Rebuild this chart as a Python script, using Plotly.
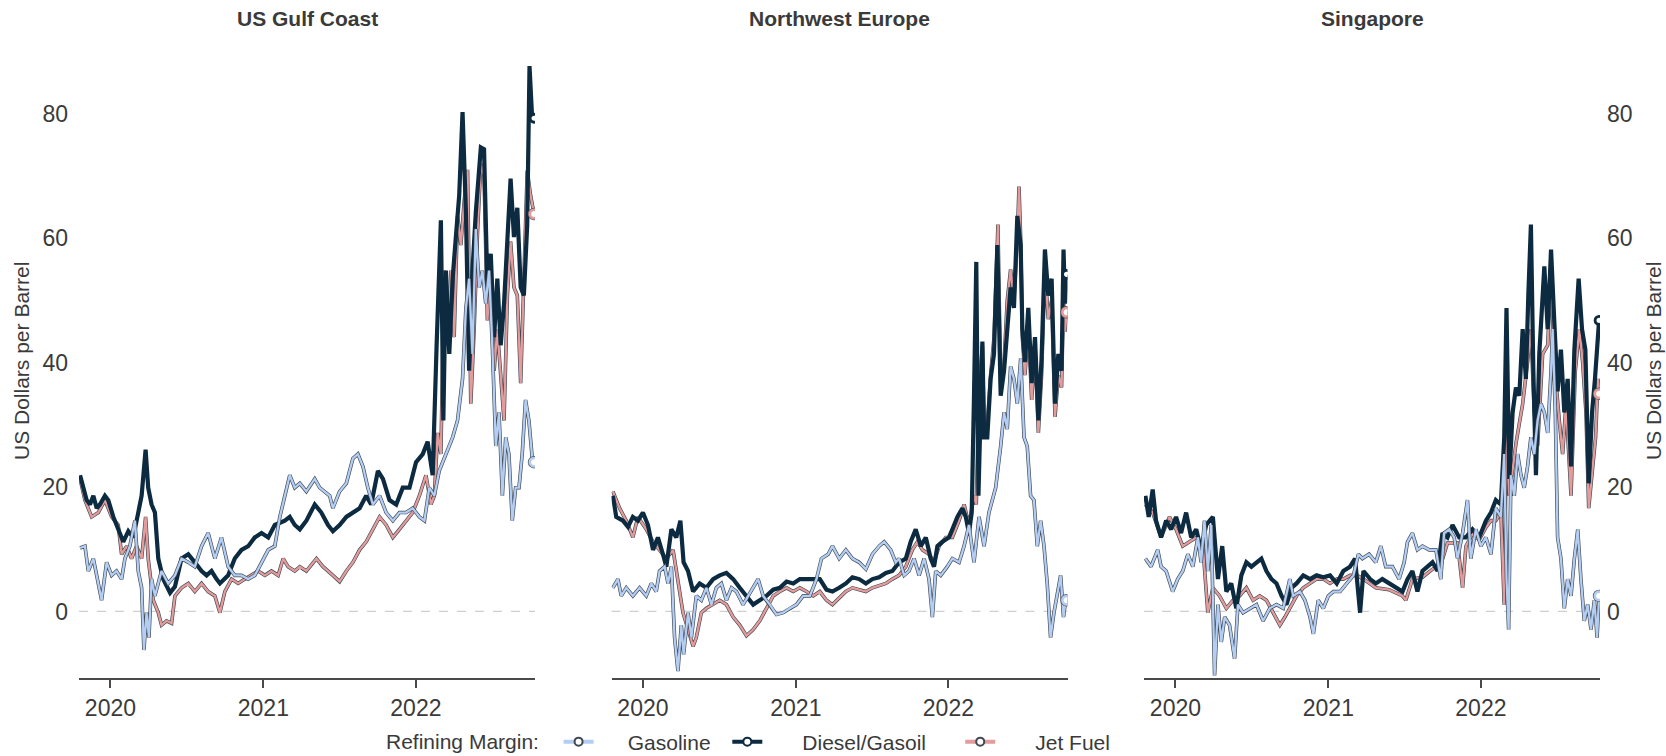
import plotly.graph_objects as go
from datetime import datetime

REGIONS = ["US Gulf Coast", "Northwest Europe", "Singapore"]
SERIES_NAMES = ["Gasoline", "Diesel/Gasoil", "Jet Fuel"]
YEAR_TICKS = [2020, 2021, 2022]
Y_TICKS = [0, 20, 40, 60, 80]
Y_TITLE = "US Dollars per Barrel"
LEGEND_TITLE = "Refining Margin:"

# Refining margins, (decimal year, US$ per barrel)
GC_GASOLINE = [
    (2019.801, 10.2), (2019.833, 10.5), (2019.855, 6.5), (2019.888, 8.5), (2019.910, 5.8), (2019.942, 1.8),
    (2019.975, 7.9), (2020.008, 5.8), (2020.040, 6.5), (2020.073, 5.2), (2020.095, 8.5), (2020.127, 10.5),
    (2020.160, 14.6), (2020.182, 6.5), (2020.204, 3.8), (2020.219, -6.2), (2020.236, -0.2), (2020.252, -4.2),
    (2020.269, 5.2), (2020.291, 2.5), (2020.334, 6.5), (2020.378, 4.5), (2020.422, 5.8), (2020.465, 8.5),
    (2020.509, 7.9), (2020.552, 7.2), (2020.596, 10.5), (2020.639, 12.6), (2020.683, 8.5), (2020.726, 11.9),
    (2020.770, 7.2), (2020.813, 5.8), (2020.857, 5.8), (2020.901, 5.2), (2020.944, 5.8), (2020.988, 7.9),
    (2021.032, 9.9), (2021.075, 10.5), (2021.108, 15.2), (2021.141, 18.6), (2021.173, 21.9), (2021.206, 19.9),
    (2021.239, 20.6), (2021.282, 19.3), (2021.337, 21.3), (2021.369, 19.9), (2021.435, 18.6), (2021.456, 16.6),
    (2021.500, 19.3), (2021.544, 20.6), (2021.587, 24.6), (2021.620, 25.3), (2021.653, 23.3), (2021.685, 19.9),
    (2021.718, 17.2), (2021.762, 18.6), (2021.805, 15.9), (2021.849, 14.6), (2021.892, 15.9), (2021.936, 15.9),
    (2021.979, 16.6), (2022.023, 15.2), (2022.056, 14.6), (2022.088, 19.9), (2022.121, 18.6), (2022.153, 22.6),
    (2022.197, 25.3), (2022.241, 28.0), (2022.273, 30.7), (2022.306, 37.4), (2022.328, 48.8), (2022.349, 53.5),
    (2022.371, 41.4), (2022.393, 61.5), (2022.415, 52.1), (2022.436, 54.8), (2022.458, 49.5), (2022.480, 54.8),
    (2022.502, 42.1), (2022.524, 26.6), (2022.545, 32.0), (2022.567, 18.6), (2022.589, 28.0), (2022.610, 25.3),
    (2022.632, 14.6), (2022.654, 19.9), (2022.676, 19.9), (2022.697, 25.3), (2022.719, 34.0), (2022.741, 30.7),
    (2022.763, 24.6), (2022.775, 24.0),
]
GC_DIESEL = [
    (2019.801, 21.9), (2019.822, 19.9), (2019.844, 17.9), (2019.866, 17.2), (2019.888, 18.6), (2019.910, 16.6),
    (2019.931, 17.2), (2019.964, 18.6), (2019.986, 17.9), (2020.019, 15.2), (2020.051, 13.2), (2020.084, 11.2),
    (2020.117, 12.9), (2020.149, 11.9), (2020.182, 15.9), (2020.204, 18.6), (2020.230, 26.0), (2020.247, 19.9),
    (2020.269, 17.2), (2020.291, 15.9), (2020.313, 8.5), (2020.345, 5.2), (2020.390, 3.0), (2020.422, 4.0),
    (2020.465, 8.5), (2020.509, 9.2), (2020.552, 7.9), (2020.596, 6.5), (2020.629, 5.8), (2020.661, 6.5),
    (2020.694, 5.2), (2020.716, 4.5), (2020.770, 5.8), (2020.813, 8.5), (2020.857, 9.9), (2020.901, 10.5),
    (2020.944, 11.9), (2020.988, 12.6), (2021.032, 11.9), (2021.075, 13.9), (2021.141, 14.6), (2021.173, 15.2),
    (2021.206, 13.9), (2021.239, 13.2), (2021.282, 14.6), (2021.337, 17.2), (2021.380, 15.9), (2021.424, 13.9),
    (2021.456, 12.9), (2021.500, 13.9), (2021.544, 15.2), (2021.587, 15.9), (2021.631, 16.6), (2021.674, 18.6),
    (2021.707, 17.2), (2021.751, 22.6), (2021.784, 21.3), (2021.827, 17.9), (2021.871, 17.2), (2021.914, 19.9),
    (2021.958, 19.9), (2022.001, 24.0), (2022.045, 25.3), (2022.077, 27.3), (2022.110, 21.9), (2022.136, 42.8),
    (2022.164, 62.9), (2022.180, 30.7), (2022.197, 54.8), (2022.219, 41.4), (2022.241, 53.5), (2022.262, 60.2),
    (2022.284, 66.9), (2022.306, 80.3), (2022.328, 64.2), (2022.349, 38.7), (2022.371, 54.8), (2022.393, 64.2),
    (2022.426, 74.6), (2022.447, 74.3), (2022.469, 52.1), (2022.491, 57.5), (2022.513, 44.1), (2022.534, 53.5),
    (2022.556, 42.8), (2022.578, 49.5), (2022.600, 60.2), (2022.621, 69.6), (2022.643, 60.2), (2022.665, 64.9),
    (2022.687, 52.1), (2022.708, 50.8), (2022.730, 62.2), (2022.745, 87.7), (2022.763, 79.0), (2022.775, 79.3),
]
GC_JET = [
    (2019.801, 21.3), (2019.833, 17.9), (2019.877, 15.2), (2019.921, 15.9), (2019.964, 17.9), (2020.008, 15.2),
    (2020.051, 13.9), (2020.073, 9.2), (2020.106, 10.5), (2020.138, 8.5), (2020.171, 10.5), (2020.204, 8.5),
    (2020.230, 15.2), (2020.247, 8.5), (2020.280, 1.8), (2020.313, -0.2), (2020.334, -2.2), (2020.367, -1.5),
    (2020.400, -1.9), (2020.422, 2.5), (2020.465, 3.8), (2020.509, 4.5), (2020.552, 3.2), (2020.596, 4.5),
    (2020.639, 3.2), (2020.683, 2.5), (2020.716, -0.2), (2020.748, 3.2), (2020.792, 5.2), (2020.835, 4.5),
    (2020.879, 5.2), (2020.923, 5.8), (2020.966, 6.5), (2021.010, 5.8), (2021.053, 6.5), (2021.097, 5.8),
    (2021.130, 8.5), (2021.162, 7.2), (2021.206, 6.5), (2021.239, 7.2), (2021.282, 6.5), (2021.348, 8.5),
    (2021.391, 7.2), (2021.456, 5.8), (2021.500, 4.8), (2021.544, 6.5), (2021.587, 7.9), (2021.631, 9.9),
    (2021.674, 11.2), (2021.718, 13.2), (2021.762, 15.2), (2021.805, 13.9), (2021.849, 11.9), (2021.892, 13.2),
    (2021.936, 14.6), (2021.979, 15.9), (2022.023, 18.6), (2022.066, 21.9), (2022.099, 17.2), (2022.121, 18.6),
    (2022.143, 28.7), (2022.164, 25.3), (2022.186, 54.8), (2022.208, 42.8), (2022.230, 54.8), (2022.251, 44.1),
    (2022.273, 63.6), (2022.295, 58.9), (2022.317, 66.0), (2022.339, 71.0), (2022.360, 33.4), (2022.382, 45.4),
    (2022.404, 60.9), (2022.426, 72.0), (2022.447, 70.0), (2022.469, 46.8), (2022.491, 55.5), (2022.513, 38.7),
    (2022.534, 45.4), (2022.556, 37.4), (2022.578, 30.7), (2022.600, 50.8), (2022.621, 59.5), (2022.643, 52.1),
    (2022.665, 50.8), (2022.687, 36.7), (2022.708, 52.1), (2022.730, 70.9), (2022.752, 66.9), (2022.775, 63.9),
]

NWE_GASOLINE = [
    (2019.803, 3.8), (2019.836, 5.2), (2019.858, 2.5), (2019.891, 3.8), (2019.934, 2.5), (2019.978, 3.8),
    (2020.022, 2.5), (2020.055, 4.5), (2020.087, 3.2), (2020.109, 6.5), (2020.142, 7.2), (2020.164, 4.5),
    (2020.186, 7.2), (2020.207, -4.2), (2020.229, -9.6), (2020.251, -2.2), (2020.266, -6.9), (2020.295, -0.2),
    (2020.317, -4.2), (2020.349, 2.5), (2020.382, 1.8), (2020.415, 3.8), (2020.448, 1.1), (2020.480, 3.8),
    (2020.513, 4.5), (2020.546, 1.8), (2020.579, 3.8), (2020.611, 3.2), (2020.655, 1.1), (2020.688, 2.5),
    (2020.721, 3.8), (2020.753, 5.2), (2020.786, 2.5), (2020.830, 1.1), (2020.873, -0.5), (2020.917, -0.2),
    (2020.961, 0.5), (2021.004, 1.1), (2021.048, 2.5), (2021.092, 2.5), (2021.135, 5.2), (2021.168, 8.5),
    (2021.212, 9.2), (2021.240, 10.5), (2021.284, 8.5), (2021.328, 9.9), (2021.371, 8.5), (2021.415, 7.9),
    (2021.459, 6.8), (2021.502, 9.2), (2021.546, 10.5), (2021.579, 11.2), (2021.622, 9.9), (2021.655, 7.9),
    (2021.677, 8.5), (2021.710, 5.8), (2021.742, 6.5), (2021.775, 8.5), (2021.808, 5.8), (2021.841, 8.5),
    (2021.873, 5.2), (2021.895, -0.9), (2021.917, 6.5), (2021.950, 5.8), (2021.993, 7.2), (2022.026, 8.5),
    (2022.070, 7.9), (2022.103, 10.5), (2022.135, 13.9), (2022.168, 7.9), (2022.201, 15.2), (2022.234, 10.5),
    (2022.266, 15.9), (2022.310, 19.9), (2022.343, 26.6), (2022.365, 32.0), (2022.386, 29.3), (2022.408, 39.4),
    (2022.430, 37.4), (2022.452, 33.4), (2022.474, 40.7), (2022.496, 28.0), (2022.517, 26.6), (2022.539, 18.6),
    (2022.561, 17.9), (2022.583, 10.5), (2022.605, 14.6), (2022.627, 10.5), (2022.648, 4.5), (2022.670, -4.2),
    (2022.692, -0.2), (2022.714, 2.5), (2022.736, 5.8), (2022.755, -0.9), (2022.765, 1.1), (2022.775, 1.8),
]
NWE_DIESEL = [
    (2019.803, 18.6), (2019.825, 15.2), (2019.869, 14.6), (2019.902, 13.6), (2019.934, 15.2), (2019.967, 14.6),
    (2020.000, 15.9), (2020.033, 13.9), (2020.066, 9.9), (2020.098, 11.9), (2020.131, 9.2), (2020.153, 7.2),
    (2020.186, 13.2), (2020.218, 11.9), (2020.245, 14.6), (2020.266, 7.9), (2020.295, 6.5), (2020.328, 3.2),
    (2020.371, 4.5), (2020.415, 3.8), (2020.459, 5.2), (2020.502, 5.8), (2020.546, 6.2), (2020.590, 5.2),
    (2020.633, 3.8), (2020.677, 2.5), (2020.721, 1.1), (2020.764, 1.8), (2020.808, 2.5), (2020.852, 3.5),
    (2020.895, 3.8), (2020.939, 4.8), (2020.983, 4.5), (2021.026, 5.2), (2021.070, 5.2), (2021.114, 5.2),
    (2021.157, 5.2), (2021.201, 3.5), (2021.240, 3.2), (2021.284, 3.8), (2021.328, 4.5), (2021.371, 5.5),
    (2021.415, 5.2), (2021.459, 4.5), (2021.502, 5.2), (2021.546, 5.5), (2021.590, 6.2), (2021.633, 6.5),
    (2021.677, 7.9), (2021.721, 8.5), (2021.753, 11.2), (2021.786, 13.2), (2021.819, 10.5), (2021.852, 11.9),
    (2021.884, 8.5), (2021.906, 7.2), (2021.928, 10.5), (2021.961, 11.2), (2022.004, 11.9), (2022.026, 13.2),
    (2022.059, 15.2), (2022.092, 16.6), (2022.114, 15.2), (2022.135, 12.6), (2022.153, 15.9), (2022.168, 34.7),
    (2022.183, 56.2), (2022.197, 18.6), (2022.212, 33.4), (2022.223, 43.4), (2022.234, 28.0), (2022.255, 28.0),
    (2022.277, 37.4), (2022.299, 41.4), (2022.321, 58.9), (2022.343, 34.7), (2022.365, 38.7), (2022.386, 45.4),
    (2022.408, 52.1), (2022.430, 48.8), (2022.452, 63.6), (2022.474, 58.9), (2022.485, 45.4), (2022.502, 40.1),
    (2022.524, 48.8), (2022.546, 36.7), (2022.568, 44.1), (2022.590, 30.7), (2022.611, 40.7), (2022.633, 58.2),
    (2022.655, 50.8), (2022.677, 53.5), (2022.699, 33.4), (2022.721, 41.4), (2022.742, 38.7), (2022.755, 58.2),
    (2022.765, 49.5), (2022.775, 54.2),
]
NWE_JET = [
    (2019.803, 19.3), (2019.847, 16.6), (2019.891, 14.6), (2019.934, 11.9), (2019.967, 15.2), (2020.022, 13.2),
    (2020.066, 11.2), (2020.109, 9.9), (2020.153, 8.5), (2020.197, 9.9), (2020.229, 5.2), (2020.262, -0.2),
    (2020.295, -2.9), (2020.328, -5.6), (2020.349, -4.2), (2020.382, -0.2), (2020.415, 0.5), (2020.459, 1.1),
    (2020.502, 1.8), (2020.546, 1.1), (2020.590, -0.9), (2020.633, -2.2), (2020.677, -3.9), (2020.721, -2.9),
    (2020.764, -1.5), (2020.808, 0.5), (2020.852, 2.5), (2020.895, 3.2), (2020.939, 3.8), (2020.983, 3.2),
    (2021.026, 3.8), (2021.070, 3.2), (2021.114, 2.5), (2021.157, 3.2), (2021.201, 1.8), (2021.240, 1.1),
    (2021.284, 2.1), (2021.328, 3.2), (2021.371, 3.8), (2021.415, 3.5), (2021.459, 3.2), (2021.502, 3.8),
    (2021.546, 4.2), (2021.590, 4.5), (2021.633, 5.2), (2021.677, 5.8), (2021.721, 7.2), (2021.764, 9.9),
    (2021.797, 11.2), (2021.830, 9.9), (2021.873, 9.2), (2021.906, 7.9), (2021.939, 10.5), (2021.983, 11.9),
    (2022.026, 11.9), (2022.070, 14.6), (2022.103, 17.2), (2022.135, 13.9), (2022.168, 18.6), (2022.183, 17.2),
    (2022.201, 35.4), (2022.223, 42.8), (2022.234, 30.0), (2022.255, 30.0), (2022.277, 38.0), (2022.299, 44.0),
    (2022.325, 62.2), (2022.343, 36.0), (2022.365, 40.0), (2022.386, 50.0), (2022.408, 55.0), (2022.430, 50.0),
    (2022.452, 60.0), (2022.463, 68.3), (2022.474, 60.0), (2022.485, 44.0), (2022.502, 38.0), (2022.524, 46.0),
    (2022.546, 34.0), (2022.568, 42.0), (2022.590, 28.7), (2022.611, 38.0), (2022.633, 55.0), (2022.655, 47.0),
    (2022.677, 50.0), (2022.699, 31.3), (2022.721, 38.0), (2022.742, 36.0), (2022.755, 50.0), (2022.765, 45.0),
    (2022.775, 48.1),
]

SG_GASOLINE = [
    (2019.803, 8.5), (2019.840, 7.2), (2019.884, 9.9), (2019.906, 7.2), (2019.939, 6.5), (2019.982, 3.2),
    (2020.015, 5.2), (2020.048, 6.5), (2020.081, 9.2), (2020.114, 7.2), (2020.147, 11.9), (2020.168, 7.9),
    (2020.190, 14.6), (2020.212, 6.5), (2020.234, 13.9), (2020.256, -10.3), (2020.278, 1.1), (2020.300, -4.9),
    (2020.322, -0.9), (2020.354, -2.2), (2020.387, -7.6), (2020.409, 1.1), (2020.442, -0.2), (2020.486, 0.5),
    (2020.530, 1.1), (2020.573, -1.5), (2020.617, 0.5), (2020.661, 1.1), (2020.705, 0.5), (2020.748, 5.2),
    (2020.770, 2.5), (2020.814, 3.2), (2020.847, 1.8), (2020.880, -0.9), (2020.902, -3.6), (2020.934, 1.8),
    (2020.967, 0.5), (2021.000, 2.5), (2021.033, 3.2), (2021.077, 3.2), (2021.120, 4.5), (2021.164, 5.8),
    (2021.197, 9.2), (2021.223, 8.5), (2021.267, 9.2), (2021.311, 7.9), (2021.344, 10.5), (2021.376, 7.2),
    (2021.420, 7.2), (2021.464, 5.2), (2021.497, 7.9), (2021.519, 11.2), (2021.551, 12.6), (2021.584, 9.9),
    (2021.617, 10.5), (2021.661, 9.9), (2021.705, 9.9), (2021.737, 5.2), (2021.759, 12.6), (2021.792, 13.2),
    (2021.825, 11.9), (2021.847, 8.5), (2021.880, 12.6), (2021.912, 17.9), (2021.934, 8.5), (2021.967, 13.2),
    (2022.000, 10.5), (2022.033, 11.9), (2022.066, 9.2), (2022.098, 16.6), (2022.131, 15.2), (2022.153, 25.3),
    (2022.168, 5.2), (2022.182, -2.9), (2022.197, 21.9), (2022.219, 18.6), (2022.241, 25.3), (2022.263, 21.9),
    (2022.284, 19.9), (2022.306, 23.3), (2022.328, 28.0), (2022.350, 25.3), (2022.372, 30.7), (2022.394, 33.4),
    (2022.416, 32.0), (2022.438, 28.7), (2022.460, 38.7), (2022.470, 45.4), (2022.488, 32.0), (2022.503, 11.9),
    (2022.525, 8.5), (2022.547, 0.5), (2022.569, 5.2), (2022.591, 2.5), (2022.613, 8.5), (2022.635, 13.2),
    (2022.656, 5.2), (2022.678, -1.5), (2022.700, 1.1), (2022.722, -2.9), (2022.744, 1.8), (2022.762, -4.2),
    (2022.775, 2.5),
]
SG_DIESEL = [
    (2019.803, 18.6), (2019.825, 15.2), (2019.851, 19.6), (2019.873, 14.6), (2019.906, 11.9), (2019.939, 14.6),
    (2019.972, 13.2), (2020.004, 15.2), (2020.037, 12.6), (2020.070, 15.9), (2020.103, 11.9), (2020.136, 13.2),
    (2020.168, 9.9), (2020.201, 13.9), (2020.245, 15.2), (2020.278, 5.2), (2020.306, 10.5), (2020.333, 3.2),
    (2020.365, 4.5), (2020.398, 0.5), (2020.431, 5.8), (2020.464, 7.9), (2020.497, 7.2), (2020.530, 7.9),
    (2020.562, 8.5), (2020.595, 6.5), (2020.628, 5.2), (2020.661, 4.5), (2020.694, 2.5), (2020.726, 1.1),
    (2020.759, 3.8), (2020.792, 4.5), (2020.836, 5.8), (2020.880, 5.2), (2020.923, 5.8), (2020.967, 5.5),
    (2021.011, 5.8), (2021.055, 4.5), (2021.098, 6.5), (2021.142, 7.2), (2021.175, 8.5), (2021.208, -0.2),
    (2021.230, 6.5), (2021.274, 5.2), (2021.311, 4.5), (2021.354, 5.2), (2021.398, 4.5), (2021.442, 3.8),
    (2021.486, 3.2), (2021.519, 5.2), (2021.551, 6.5), (2021.584, 3.2), (2021.617, 6.5), (2021.650, 7.2),
    (2021.683, 7.9), (2021.716, 6.5), (2021.748, 12.6), (2021.781, 11.9), (2021.814, 13.9), (2021.858, 11.9),
    (2021.902, 11.9), (2021.945, 13.2), (2021.989, 11.9), (2022.033, 14.6), (2022.066, 15.9), (2022.098, 17.9),
    (2022.131, 17.2), (2022.153, 28.0), (2022.168, 48.8), (2022.186, 21.3), (2022.208, 32.0), (2022.230, 36.0),
    (2022.252, 34.7), (2022.274, 45.4), (2022.295, 37.4), (2022.311, 50.8), (2022.328, 62.2), (2022.344, 38.7),
    (2022.361, 21.9), (2022.383, 41.4), (2022.416, 55.5), (2022.438, 45.4), (2022.460, 58.2), (2022.481, 46.8),
    (2022.503, 35.4), (2022.525, 42.1), (2022.547, 32.0), (2022.569, 37.4), (2022.591, 23.3), (2022.613, 42.1),
    (2022.641, 53.5), (2022.663, 45.4), (2022.685, 42.1), (2022.707, 20.6), (2022.729, 32.0), (2022.748, 37.4),
    (2022.767, 44.1), (2022.775, 46.8),
]
SG_JET = [
    (2019.803, 17.2), (2019.851, 15.9), (2019.906, 11.9), (2019.961, 15.2), (2020.004, 13.2), (2020.048, 10.5),
    (2020.092, 11.2), (2020.136, 11.9), (2020.179, 10.5), (2020.212, -0.2), (2020.245, 3.8), (2020.289, 2.5),
    (2020.333, 0.5), (2020.376, 1.8), (2020.420, 2.5), (2020.464, 3.8), (2020.508, 1.8), (2020.551, 2.5),
    (2020.595, 1.8), (2020.639, -0.2), (2020.683, -2.2), (2020.716, -0.9), (2020.748, 0.5), (2020.792, 2.5),
    (2020.836, 3.8), (2020.880, 4.5), (2020.923, 5.2), (2020.967, 5.2), (2021.011, 4.5), (2021.055, 5.2),
    (2021.098, 5.2), (2021.142, 5.8), (2021.186, 5.8), (2021.230, 5.2), (2021.311, 3.8), (2021.398, 3.5),
    (2021.486, 2.5), (2021.508, 1.8), (2021.551, 5.2), (2021.617, 5.5), (2021.683, 6.8), (2021.737, 7.5),
    (2021.781, 11.0), (2021.847, 11.0), (2021.880, 3.8), (2021.902, 10.5), (2021.945, 12.5), (2021.989, 11.5),
    (2022.033, 13.5), (2022.066, 14.6), (2022.098, 14.6), (2022.131, 16.0), (2022.153, 1.1), (2022.168, 30.0),
    (2022.186, 18.6), (2022.230, 27.0), (2022.274, 33.4), (2022.306, 40.1), (2022.328, 45.4), (2022.350, 32.0),
    (2022.372, 26.6), (2022.405, 41.4), (2022.438, 42.8), (2022.460, 54.8), (2022.481, 40.1), (2022.514, 30.7),
    (2022.536, 25.3), (2022.558, 33.4), (2022.591, 18.6), (2022.619, 38.7), (2022.646, 45.4), (2022.667, 40.1),
    (2022.689, 32.0), (2022.707, 16.6), (2022.729, 21.9), (2022.752, 28.0), (2022.768, 37.4), (2022.775, 35.0),
]

X_START, X_END = 2019.794, 2022.781
Y_MIN, Y_MAX = -10.75, 90.0

# ---------------------------------------------------------------- styling
W, H = 1666, 756
PANEL_LEFT = [79, 611.5, 1144]
PANEL_W = 456
PLOT_TOP, PLOT_BOTTOM = 51.7, 678.3
FONT = "Liberation Sans, Arial, Helvetica, sans-serif"
TXT = "#3a3a3a"
AXC = "#4a4a4a"
OUTLINE = "#414a54"
COLORS = {"Gasoline": "#b3cdf3", "Diesel/Gasoil": "#0c2b40", "Jet Fuel": "#e39b9b"}
NB = "\u00a0"
LEGEND_PAD = {"Gasoline": (5, 2), "Diesel/Gasoil": (6, 5), "Jet Fuel": (6, 0)}


def to_date(t):
    y = int(t)
    a, b = datetime(y, 1, 1), datetime(y + 1, 1, 1)
    return a + (b - a) * (t - y)


DATA = {
    "US Gulf Coast": {"Gasoline": GC_GASOLINE, "Diesel/Gasoil": GC_DIESEL, "Jet Fuel": GC_JET},
    "Northwest Europe": {"Gasoline": NWE_GASOLINE, "Diesel/Gasoil": NWE_DIESEL, "Jet Fuel": NWE_JET},
    "Singapore": {"Gasoline": SG_GASOLINE, "Diesel/Gasoil": SG_DIESEL, "Jet Fuel": SG_JET},
}

fig = go.Figure()
marker_traces = []

for i, region in enumerate(REGIONS):
    xa = "x" if i == 0 else f"x{i+1}"
    ya = "y" if i == 0 else f"y{i+1}"
    series = DATA[region]
    for name in ["Jet Fuel", "Diesel/Gasoil", "Gasoline"]:
        pts = series[name]
        xs = [to_date(t) for t, _ in pts]
        ys = [v for _, v in pts]
        if name == "Diesel/Gasoil":
            fig.add_trace(go.Scatter(x=xs, y=ys, mode="lines", xaxis=xa, yaxis=ya,
                                     line=dict(color=COLORS[name], width=4.2),
                                     showlegend=False, hoverinfo="skip"))
            marker_traces.append(go.Scatter(x=[xs[-1]], y=[ys[-1]], mode="markers", xaxis=xa, yaxis=ya,
                                            marker=dict(size=8, color="white",
                                                        line=dict(color=COLORS[name], width=2.8)),
                                            showlegend=False, hoverinfo="skip"))
        else:
            fig.add_trace(go.Scatter(x=xs, y=ys, mode="lines", xaxis=xa, yaxis=ya,
                                     line=dict(color=OUTLINE, width=3.6),
                                     showlegend=False, hoverinfo="skip"))
            fig.add_trace(go.Scatter(x=xs, y=ys, mode="lines", xaxis=xa, yaxis=ya,
                                     line=dict(color=COLORS[name], width=2.3),
                                     showlegend=False, hoverinfo="skip"))
            marker_traces.append(go.Scatter(x=[xs[-1]], y=[ys[-1]], mode="markers", xaxis=xa, yaxis=ya,
                                            marker=dict(size=12.5, color="#5a5a5a", line=dict(width=0)),
                                            showlegend=False, hoverinfo="skip"))
            marker_traces.append(go.Scatter(x=[xs[-1]], y=[ys[-1]], mode="markers", xaxis=xa, yaxis=ya,
                                            marker=dict(size=8.5, color="white",
                                                        line=dict(color=COLORS[name], width=2.6)),
                                            showlegend=False, hoverinfo="skip"))

for t in marker_traces:
    fig.add_trace(t)

# legend-only entries
for rank, name in enumerate(SERIES_NAMES):
    lead, trail = LEGEND_PAD[name]
    fig.add_trace(go.Scatter(
        x=[None], y=[None], mode="lines+markers", name=NB * lead + name + NB * trail,
        line=dict(color=COLORS[name], width=4),
        marker=dict(size=8, color="white",
                    line=dict(color=COLORS[name] if name == "Diesel/Gasoil" else OUTLINE, width=2)),
        legendrank=rank + 1, hoverinfo="skip"))

shapes = []
annotations = []
ydom = [(H - PLOT_BOTTOM) / H, (H - PLOT_TOP) / H]
for i, region in enumerate(REGIONS):
    k = "" if i == 0 else str(i + 1)
    dom = [PANEL_LEFT[i] / W, (PANEL_LEFT[i] + PANEL_W) / W]
    fig.update_layout(**{
        f"xaxis{k}": dict(
            domain=dom, anchor=f"y{k}", type="date",
            range=[to_date(X_START), to_date(X_END)],
            tickvals=[datetime(y, 1, 1) for y in YEAR_TICKS], ticktext=[str(y) for y in YEAR_TICKS],
            showline=True, linecolor=AXC, linewidth=1.6, ticks="outside", ticklen=8,
            tickwidth=1.6, tickcolor=AXC, showgrid=False, zeroline=False,
            tickfont=dict(family=FONT, size=23, color=TXT), ticklabelstandoff=0,
        ),
        f"yaxis{k}": dict(
            domain=ydom, anchor=f"x{k}", range=[Y_MIN, Y_MAX],
            tickvals=Y_TICKS, showticklabels=(i != 1), side=("right" if i == 2 else "left"),
            showline=False, ticks="", showgrid=False, zeroline=False,
            tickfont=dict(family=FONT, size=23, color=TXT), ticklabelstandoff=(10 if i == 0 else 6),
        ),
    })
    shapes.append(dict(type="line", xref=f"x{k} domain", yref=f"y{k}", x0=0, x1=1, y0=0, y1=0,
                       line=dict(color="#cfcfcf", width=1.2, dash="dash"), layer="below"))
    annotations.append(dict(text=f"<b>{region}</b>", xref="paper", yref="paper",
                            x=(PANEL_LEFT[i] + PANEL_W / 2) / W, y=(H - 19) / H,
                            xanchor="center", yanchor="middle", showarrow=False,
                            font=dict(family=FONT, size=21, color=TXT)))

for xpx in (21, 1653):
    annotations.append(dict(text=Y_TITLE, xref="paper", yref="paper", x=xpx / W, y=(H - 361) / H,
                            xanchor="center", yanchor="middle", textangle=-90, showarrow=False,
                            font=dict(family=FONT, size=21, color=TXT)))

fig.update_layout(
    width=W, height=H, autosize=False,
    margin=dict(l=0, r=0, t=0, b=0, autoexpand=False),
    paper_bgcolor="white", plot_bgcolor="white",
    shapes=shapes, annotations=annotations,
    showlegend=True,
    legend=dict(orientation="h", x=384 / W, xanchor="left", y=(H - 742) / H, yanchor="middle",
                title=dict(text=LEGEND_TITLE + NB * 2, side="left",
                           font=dict(family=FONT, size=21, color=TXT)),
                font=dict(family=FONT, size=21, color=TXT), bgcolor="rgba(0,0,0,0)",
                traceorder="normal", itemwidth=30),
    hovermode=False,
)

fig.write_html(
    "out.html",
    config={"displayModeBar": False},
    post_script="document.body.style.margin='0px';document.body.style.padding='0px';"
                "document.body.style.overflow='hidden';",
)
